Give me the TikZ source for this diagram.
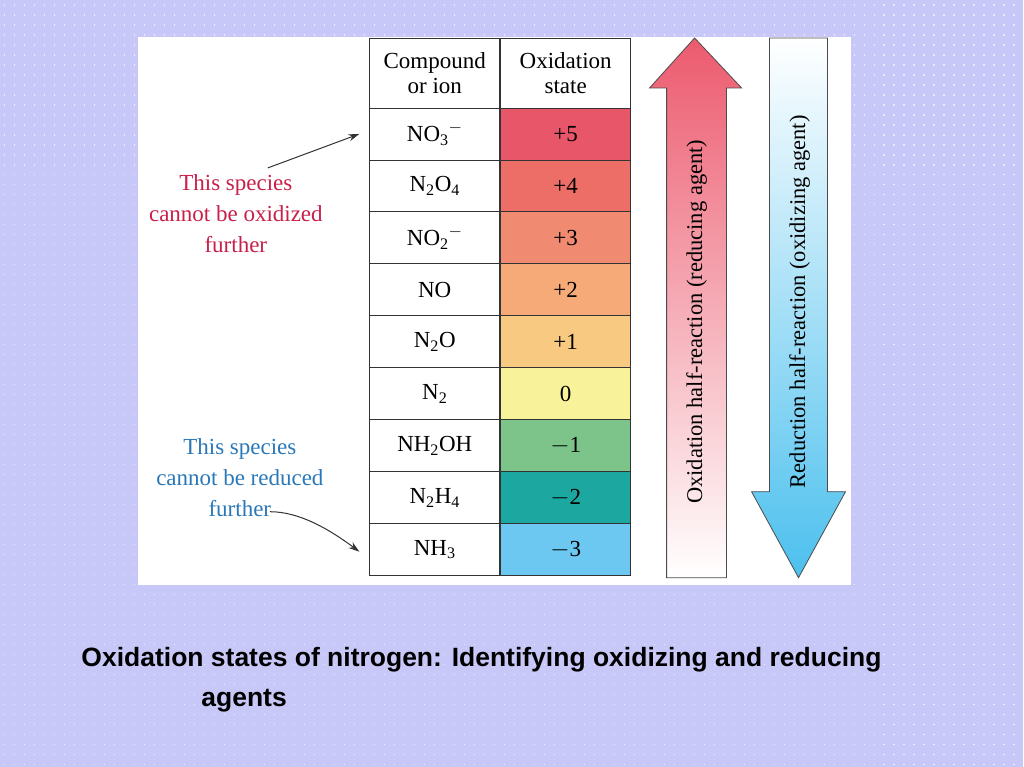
\documentclass[tikz,border=0pt]{standalone}
\usepackage{fontspec}
\setmainfont{Liberation Serif}
\newfontfamily\titlefont{Liberation Sans}
\usetikzlibrary{arrows.meta}
\begin{document}
\begin{tikzpicture}[x=1pt,y=-1pt,
  cell/.style={draw=black!80,line width=0.8pt,minimum width=130pt,minimum height=52pt,inner sep=0pt,font=\fontsize{23}{26}\selectfont},
  note/.style={align=center,font=\fontsize{23}{31}\selectfont},
  ptr/.style={-{Stealth[length=11pt,width=7pt]},line width=1pt,black!80}]
\fill[fill={rgb,255:red,200;green,200;blue,248}] (0,0) rectangle (1024,767);
\foreach \j in {0,...,76}{\draw[white!60!blue!20,line width=1.2pt,dash pattern=on 1.2pt off 8.8pt] (4,5+\j*10) -- (1024,5+\j*10);}
\fill[white] (138,37) rectangle (851,585);
\node[cell,minimum height=70pt,align=center] (h1) at (435,73) {Compound\\[-1pt]or ion};
\node[cell,minimum height=70pt,align=center] (h2) at (566,73) {Oxidation\\[-1pt]state};
\foreach \c/\v/\col [count=\k from 0] in {{NO\textsubscript{3}\textsuperscript{$-$}}/+5/E8566A,{N\textsubscript{2}O\textsubscript{4}}/+4/EC6E67,{NO\textsubscript{2}\textsuperscript{$-$}}/+3/F08A70,NO/+2/F5AA78,{N\textsubscript{2}O}/+1/F8C980,{N\textsubscript{2}}/0/F8F29A,{NH\textsubscript{2}OH}/$-$1/7CC48A,{N\textsubscript{2}H\textsubscript{4}}/$-$2/1CA8A0,{NH\textsubscript{3}}/$-$3/6CC8F0}{
  \definecolor{cc}{HTML}{\col}
  \node[cell] (c\k) at (435,134+\k*52) {\c};
  \node[cell,fill=cc] (v\k) at (566,134+\k*52) {\v};
}
\definecolor{upr}{HTML}{EC5A6E}\definecolor{dnb}{HTML}{4CC0EE}
\shade[top color=upr,bottom color=white,draw=black!70,line width=0.8pt]
 (695,38) -- (742,88) -- (727,88) -- (727,578) -- (667,578) -- (667,88) -- (650,88) -- cycle;
\node[rotate=90,font=\fontsize{22.5}{26}\selectfont] (ox) at (697,322) {Oxidation half-reaction (reducing agent)};
\shade[top color=white,bottom color=dnb,draw=black!70,line width=0.8pt]
 (770,38) -- (828,38) -- (828,492) -- (846,492) -- (799,578) -- (752,492) -- (770,492) -- cycle;
\node[rotate=90,font=\fontsize{22.5}{26}\selectfont] (rd) at (800,302) {Reduction half-reaction (oxidizing agent)};
\definecolor{red1}{HTML}{C8204A}\definecolor{blue1}{HTML}{2A78B8}
\node[note,text=red1] (n1) at (236,214) {This species\\cannot be oxidized\\further};
\node[note,text=blue1] (n2) at (240,478) {This species\\cannot be reduced\\further};
\coordinate (s1) at (268,168);
\coordinate (s2) at (270,512);
\draw[ptr] (s1) -- ([xshift=-10pt]c0.west);
\draw[ptr] (s2) .. controls (300,512) and (330,530) .. ([xshift=-10pt,yshift=-2pt]c8.west);
\node[anchor=west,font=\titlefont\bfseries\fontsize{26.5}{30}\selectfont] (t1) at (78,660) {Oxidation states of nitrogen: Identifying oxidizing and reducing};
\node[anchor=west,font=\titlefont\bfseries\fontsize{26.5}{30}\selectfont] (t2) at (198,701) {agents};
\end{tikzpicture}
\end{document}
